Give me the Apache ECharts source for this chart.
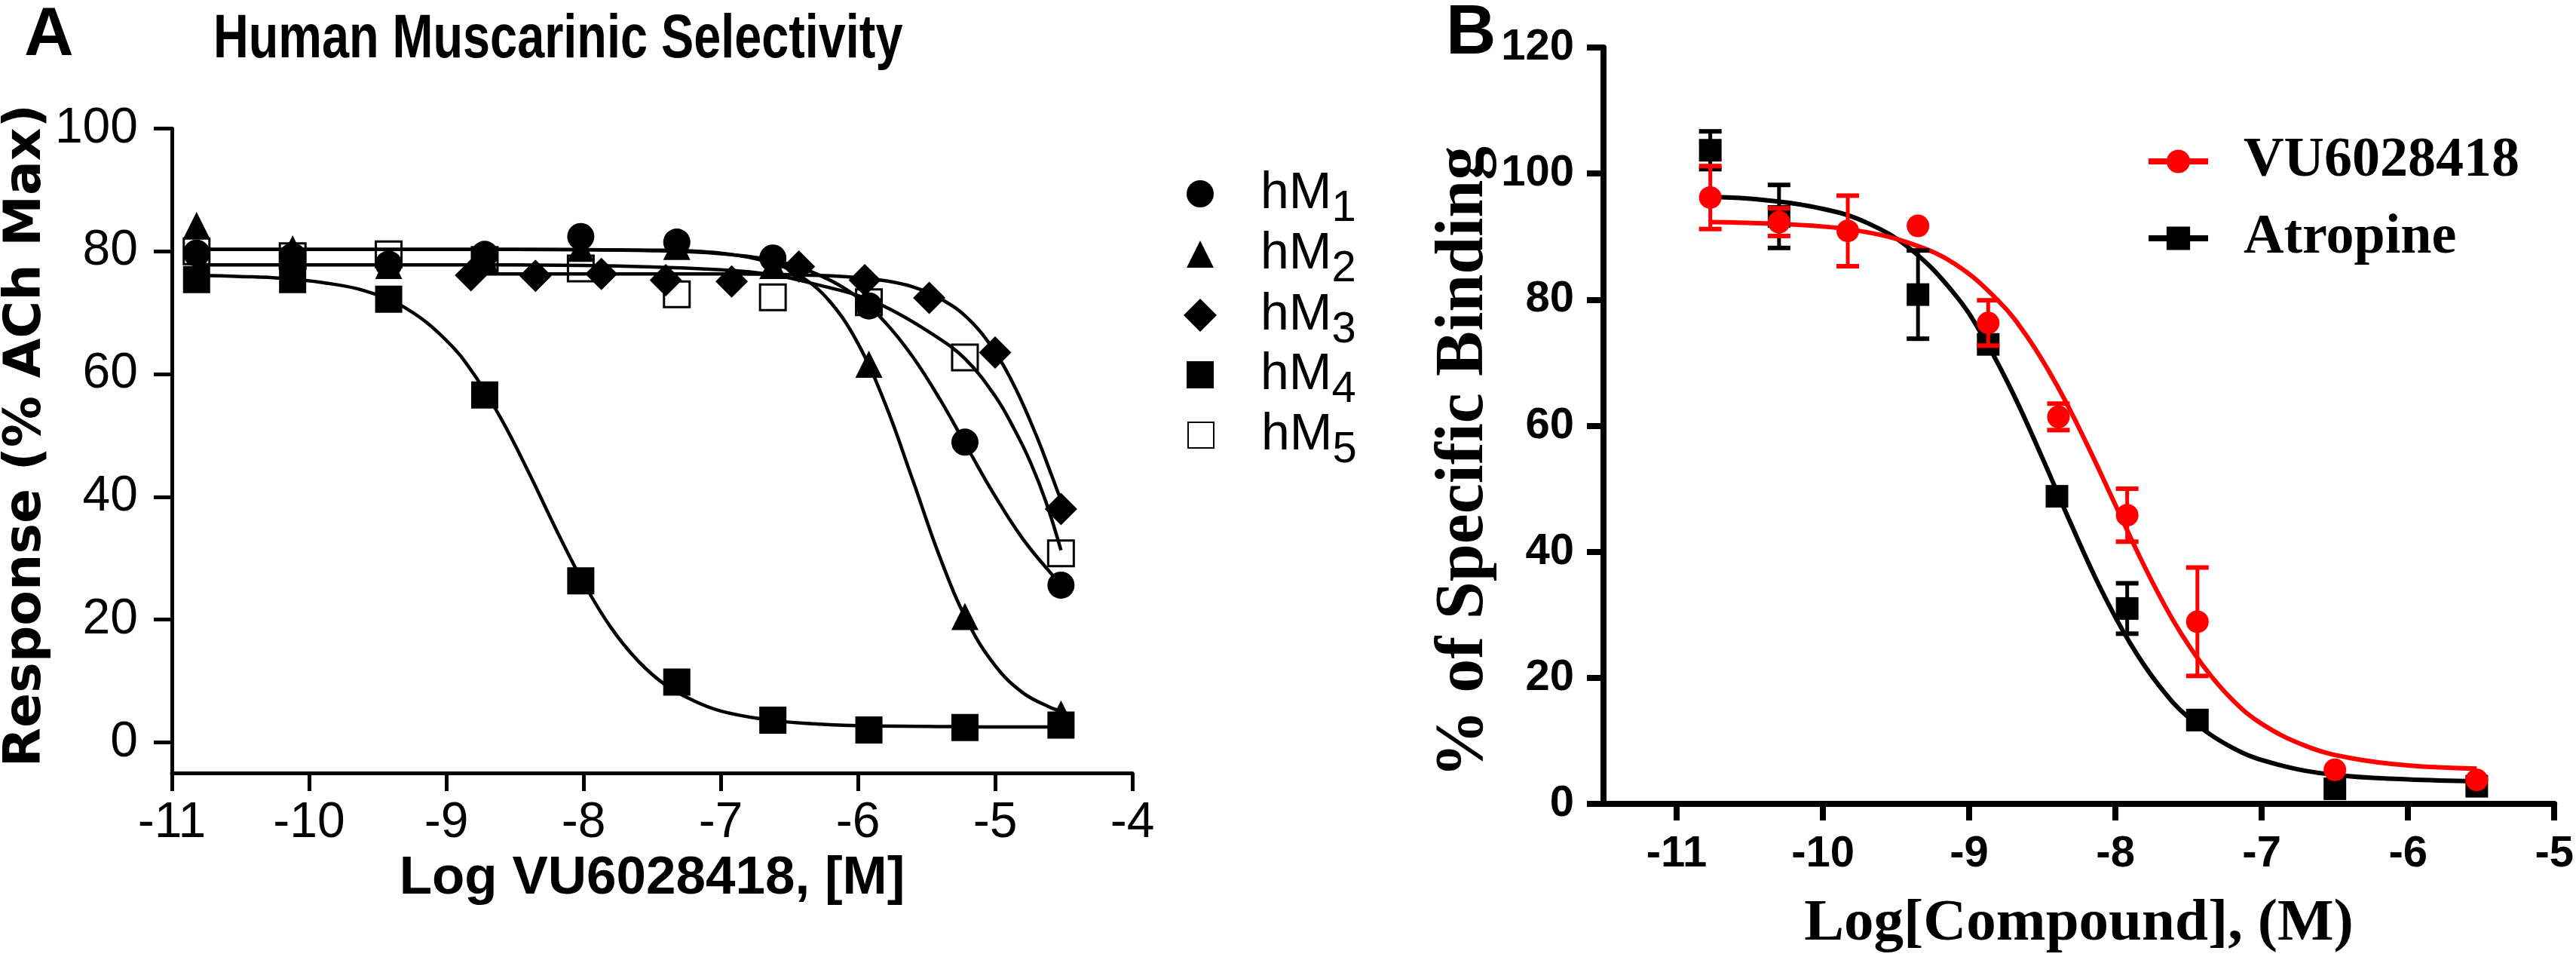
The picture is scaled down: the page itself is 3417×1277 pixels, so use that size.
<!DOCTYPE html>
<html><head><meta charset="utf-8">
<script src="https://cdn.jsdelivr.net/npm/echarts@6/dist/echarts.min.js"></script>
<style>html,body{margin:0;padding:0;background:#fff}#chart{width:3417px;height:1277px}</style>
</head><body><div id="chart"></div>
<script>
// ---------- Panel A: functional selectivity ----------
const xA  = [-10.82, -10.12, -9.42, -8.72, -8.02, -7.32, -6.62, -5.92, -5.22, -4.52];
const xA3 = [-8.82, -8.35, -7.87, -7.40, -6.92, -6.43, -5.95, -5.48, -5.00, -4.52];
const hM1 = [79.7, 79.2, 77.9, 79.5, 82.4, 81.5, 78.9, 71.1, 48.9, 25.6];
const hM2 = [84.2, 80.4, 77.7, 78.8, 80.5, 80.8, 77.7, 61.6, 20.5, 4.6];
const hM3 = [76.1, 76.0, 76.3, 75.3, 75.1, 77.5, 75.3, 72.4, 63.5, 38.0];
const hM4 = [75.4, 75.4, 72.2, 56.6, 26.3, 9.8, 3.6, 2.0, 2.4, 2.8];
const hM5 = [80.0, 79.2, 79.5, 78.6, 77.2, 73.0, 72.5, 71.7, 62.7, 30.8];

// fitted curves
const fit1X = [-10.82, -9.5, -8.5, -7.5, -7.0, -6.6, -6.3, -6.0, -5.8, -5.6, -5.4, -5.2, -5.0, -4.8, -4.6, -4.52];
const fit1Y = [80.3, 80.3, 80.3, 80.1, 79.6, 78.4, 76.3, 72.5, 68.4, 62.8, 55.8, 47.9, 40.1, 33.2, 27.7, 25.9];
const fit2X = [-10.82, -8.5, -7.5, -7.0, -6.6, -6.4, -6.2, -6.0, -5.8, -5.6, -5.4, -5.2, -5.0, -4.8, -4.6, -4.52];
const fit2Y = [80.3, 80.3, 80.2, 79.7, 77.9, 75.7, 71.7, 65.0, 55.1, 42.7, 30.0, 19.6, 12.5, 8.1, 5.7, 5.1];
const fit3X = [-8.82, -7.5, -7.0, -6.5, -6.2, -6.0, -5.8, -5.6, -5.4, -5.2, -5.0, -4.85, -4.7, -4.6, -4.52];
const fit3Y = [76.3, 76.3, 76.3, 76.2, 76.0, 75.7, 75.2, 74.2, 72.3, 69.1, 63.6, 57.6, 50.0, 44.2, 39.4];
const fit4X = [-10.82, -10.5, -10.2, -9.9, -9.6, -9.3, -9.0, -8.8, -8.6, -8.4, -8.2, -8.0, -7.8, -7.6, -7.4, -7.2, -7.0, -6.7, -6.4, -6.0, -5.5, -5.0, -4.52];
const fit4Y = [76.1, 75.9, 75.6, 74.9, 73.6, 70.8, 65.5, 60.0, 52.7, 44.0, 34.7, 26.0, 18.7, 13.2, 9.3, 6.8, 5.1, 3.8, 3.1, 2.7, 2.6, 2.5, 2.5];
const fit5X = [-10.82, -9.0, -8.0, -7.0, -6.6, -6.25, -6.0, -5.75, -5.45, -5.22, -5.0, -4.86, -4.74, -4.63, -4.52];
const fit5Y = [77.8, 77.8, 77.7, 77.0, 76.1, 74.3, 72.8, 70.4, 66.4, 62.5, 56.4, 51.0, 45.5, 39.2, 31.3];

const xTicksA = [-11, -10, -9, -8, -7, -6, -5, -4];
const yTicksA = [0, 20, 40, 60, 80, 100];

// ---------- Panel B: binding ----------
const vuX   = [-10.77, -10.30, -9.83, -9.35, -8.87, -8.39, -7.92, -7.44, -6.50, -5.53];
const vuY   = [96.2, 92.3, 90.9, 91.7, 76.3, 61.4, 45.8, 28.9, 5.4, 3.8];
const vuErr = [5.0, 2.2, 5.6, 0, 3.6, 2.1, 4.2, 8.6, 0, 0];
const atX   = [-10.77, -10.30, -9.35, -8.87, -8.40, -7.92, -7.44, -6.50, -5.53];
const atY   = [103.7, 93.2, 80.8, 72.9, 48.8, 31.0, 13.3, 2.4, 2.8];
const atErr = [3.0, 5.0, 7.0, 0, 0, 4.0, 0, 0, 0];

const fitVuX = [-10.77, -10.4, -10.0, -9.7, -9.4, -9.1, -8.8, -8.6, -8.4, -8.2, -8.0, -7.8, -7.6, -7.4, -7.2, -7.0, -6.7, -6.4, -6.0, -5.53];
const fitVuY = [92.3, 92.1, 91.6, 90.7, 88.9, 85.7, 79.8, 74.0, 66.4, 57.3, 47.4, 37.6, 28.9, 21.9, 16.5, 12.7, 9.2, 7.3, 6.1, 5.6];
const fitAtX = [-10.77, -10.4, -10.0, -9.7, -9.4, -9.1, -8.9, -8.7, -8.5, -8.3, -8.1, -7.9, -7.7, -7.5, -7.2, -6.9, -6.5, -6.0, -5.53];
const fitAtY = [96.3, 95.8, 94.4, 92.2, 88.0, 80.9, 73.9, 65.1, 54.9, 44.2, 34.1, 25.5, 18.7, 13.7, 8.9, 6.3, 4.6, 3.9, 3.6];

const xTicksB = [-11, -10, -9, -8, -7, -6, -5];

// ---------- helpers ----------
const zip = (xs, ys) => xs.map((x, i) => [x, ys[i]]);
const SANS = "'Liberation Sans',Arial,sans-serif";
const DEJAVU = "'DejaVu Sans',sans-serif";
const SERIF = "'Liberation Serif','Times New Roman',serif";

function fitLine(name, xs, ys, color, width, xi, z, symbol) {
  return { type: 'line', name: name, xAxisIndex: xi, yAxisIndex: xi, data: zip(xs, ys),
    smooth: 0.4, symbol: symbol || 'none', showSymbol: false, silent: true, z: z,
    lineStyle: { color: color, width: width }, itemStyle: { color: color } };
}
function errBars(name, xs, ys, es, color, z) {
  const data = [];
  xs.forEach((x, i) => { if (es[i] > 0) data.push([x, ys[i] - es[i], ys[i] + es[i]]); });
  return { type: 'custom', name: name, xAxisIndex: 1, yAxisIndex: 1, z: z, silent: true, data: data,
    renderItem: function (params, api) {
      const x = api.value(0);
      const lo = api.coord([x, api.value(1)]);
      const hi = api.coord([x, api.value(2)]);
      const hw = 15;
      const st = { stroke: color, lineWidth: 6 };
      return { type: 'group', children: [
        { type: 'line', shape: { x1: hi[0], y1: hi[1], x2: lo[0], y2: lo[1] }, style: { stroke: color, lineWidth: 5 } },
        { type: 'line', shape: { x1: hi[0] - hw, y1: hi[1], x2: hi[0] + hw, y2: hi[1] }, style: st },
        { type: 'line', shape: { x1: lo[0] - hw, y1: lo[1], x2: lo[0] + hw, y2: lo[1] }, style: st }
      ] };
    } };
}
function pts(name, xs, ys, symbol, size, itemStyle, xi, z) {
  return { type: 'scatter', name: name, xAxisIndex: xi, yAxisIndex: xi, data: zip(xs, ys),
    symbol: symbol, symbolSize: size, itemStyle: Object.assign({ opacity: 1 }, itemStyle), z: z,
    emphasis: { disabled: true } };
}

// legend rows for panel A (one legend per row)
const legA = [
  { name: 'hM1', icon: 'circle', sub: '1', w: 36, cy: 257 },
  { name: 'hM2', icon: 'triangle', sub: '2', w: 36, cy: 337 },
  { name: 'hM3', icon: 'diamond', sub: '3', w: 44, cy: 418 },
  { name: 'hM4', icon: 'rect', sub: '4', w: 36, cy: 497 },
  { name: 'hM5', icon: 'rect', sub: '5', w: 34, cy: 577 }
];
const legends = legA.map(r => {
  const left = 1592 - r.w / 2;
  const pad = 1672 - (left + r.w + 5);
  return {
    show: true, orient: 'vertical', left: left, top: r.cy - 36, padding: 0, itemGap: 0,
    selectedMode: false, itemWidth: r.w, itemHeight: r.w,
    data: [{ name: r.name, icon: r.icon }],
    formatter: () => '{p| }{a|hM}{s|' + r.sub + '}',
    textStyle: { color: '#000', fontFamily: SANS, fontSize: 68, lineHeight: 72,
      rich: { p: { width: pad, lineHeight: 72 },
              a: { fontFamily: SANS, fontSize: 68, lineHeight: 72, color: '#000' },
              s: { fontFamily: SANS, fontSize: 58, lineHeight: 32, height: 32, verticalAlign: 'bottom', color: '#000' } } }
  };
});
[{ name: 'VU6028418', cy: 214 }, { name: 'Atropine', cy: 316 }].forEach(r => {
  legends.push({
    show: true, left: 2846, top: r.cy - 40, padding: 0, selectedMode: false,
    itemWidth: 79, itemHeight: 39, lineStyle: { width: 8 },
    data: [r.name],
    formatter: n => '{p| }{t|' + n + '}',
    textStyle: { color: '#000', fontFamily: SERIF, fontWeight: 'bold', fontSize: 74, lineHeight: 80,
      rich: { p: { width: 42, lineHeight: 80 },
              t: { fontFamily: SERIF, fontWeight: 'bold', fontSize: 74, lineHeight: 80, color: '#000' } } }
  });
});

const axA = { color: '#000', width: 5 };
const axB = { color: '#000', width: 8 };

const option = {
  animation: false,
  backgroundColor: '#fff',
  title: [
    { text: 'A', left: 32, top: 2, padding: 0, textStyle: { fontFamily: SANS, fontWeight: 'bold', fontSize: 91, color: '#000' } },
    { text: 'B', left: 1918, top: 0, padding: 0, textStyle: { fontFamily: SANS, fontWeight: 'bold', fontSize: 92, color: '#000' } }
  ],
  // panel A heading, drawn condensed like the original
  graphic: [
    { type: 'text', left: 283, top: 12, scaleX: 0.79, silent: true,
      style: { text: 'Human Muscarinic Selectivity', fill: '#000', font: "bold 82px 'Liberation Sans', Arial, sans-serif" } }
  ],
  legend: legends,
  grid: [
    { left: 220, top: 170.5, width: 1282, height: 854.5 },
    { left: 2127, top: 63, width: 1265, height: 1003 }
  ],
  xAxis: [
    { gridIndex: 0, type: 'value', min: -11, max: -4, interval: 1,
      axisLine: { show: true, onZero: false, lineStyle: axA },
      axisTick: { show: true, length: 24, lineStyle: axA, customValues: xTicksA },
      axisLabel: { color: '#000', fontFamily: SANS, fontSize: 66, margin: 34, customValues: xTicksA },
      splitLine: { show: false },
      name: 'Log VU6028418, [M]', nameLocation: 'middle', nameGap: 104,
      nameTextStyle: { color: '#000', fontFamily: SANS, fontWeight: 'bold', fontSize: 71 } },
    { gridIndex: 1, type: 'value', min: -11.5, max: -5,
      axisLine: { show: true, onZero: false, lineStyle: axB },
      axisTick: { show: true, length: 22, lineStyle: axB, customValues: xTicksB },
      axisLabel: { color: '#000', fontFamily: SANS, fontWeight: 'bold', fontSize: 58, margin: 38, customValues: xTicksB },
      splitLine: { show: false },
      name: 'Log[Compound], (M)', nameLocation: 'middle', nameGap: 120,
      nameTextStyle: { color: '#000', fontFamily: SERIF, fontWeight: 'bold', fontSize: 79 } }
  ],
  yAxis: [
    { gridIndex: 0, type: 'value', min: -5, max: 100,
      axisLine: { show: true, onZero: false, lineStyle: axA },
      axisTick: { show: true, length: 24, lineStyle: axA, customValues: yTicksA },
      axisLabel: { color: '#000', fontFamily: SANS, fontSize: 66, margin: 45, customValues: yTicksA },
      splitLine: { show: false },
      name: 'Response (% ACh Max)', nameLocation: 'middle', nameRotate: 90, nameGap: 122,
      nameTextStyle: { color: '#000', fontFamily: DEJAVU, fontWeight: 'bold', fontSize: 68, padding: [0, 0, 0, 40] } },
    { gridIndex: 1, type: 'value', min: 0, max: 120, interval: 20,
      axisLine: { show: true, onZero: false, lineStyle: axB },
      axisTick: { show: true, length: 22, lineStyle: axB },
      axisLabel: { color: '#000', fontFamily: SANS, fontWeight: 'bold', fontSize: 58, margin: 39 },
      splitLine: { show: false },
      name: '% of Specific Binding', nameLocation: 'middle', nameRotate: 90, nameGap: 116,
      nameTextStyle: { color: '#000', fontFamily: SERIF, fontWeight: 'bold', fontSize: 90, padding: [0, 96, 0, 0] } }
  ],
  series: [
    fitLine('fit hM1', fit1X, fit1Y, '#000', 4.5, 0, 2),
    fitLine('fit hM2', fit2X, fit2Y, '#000', 4.5, 0, 2),
    fitLine('fit hM3', fit3X, fit3Y, '#000', 4.5, 0, 2),
    fitLine('fit hM4', fit4X, fit4Y, '#000', 4.5, 0, 2),
    fitLine('fit hM5', fit5X, fit5Y, '#000', 4.5, 0, 2),
    pts('hM1', xA, hM1, 'circle', 36, { color: '#000' }, 0, 4),
    pts('hM2', xA, hM2, 'triangle', 36, { color: '#000' }, 0, 3),
    pts('hM3', xA3, hM3, 'diamond', 43, { color: '#000' }, 0, 4),
    pts('hM4', xA, hM4, 'rect', 36, { color: '#000' }, 0, 4),
    pts('hM5', xA, hM5, 'rect', 34, { color: 'rgba(0,0,0,0)', borderColor: '#000', borderWidth: 3 }, 0, 5),

    fitLine('Atropine', fitAtX, fitAtY, '#000', 6, 1, 2, 'rect'),
    fitLine('VU6028418', fitVuX, fitVuY, '#ff0000', 6, 1, 3, 'circle'),
    errBars('Atropine error', atX, atY, atErr, '#000', 4),
    pts('Atropine data', atX, atY, 'rect', 30, { color: '#000' }, 1, 5),
    errBars('VU6028418 error', vuX, vuY, vuErr, '#ff0000', 6),
    pts('VU6028418 data', vuX, vuY, 'circle', 30, { color: '#ff0000' }, 1, 7)
  ]
};
const chart = echarts.init(document.getElementById('chart'), null, { renderer: 'canvas' });
chart.setOption(option);
</script></body></html>
